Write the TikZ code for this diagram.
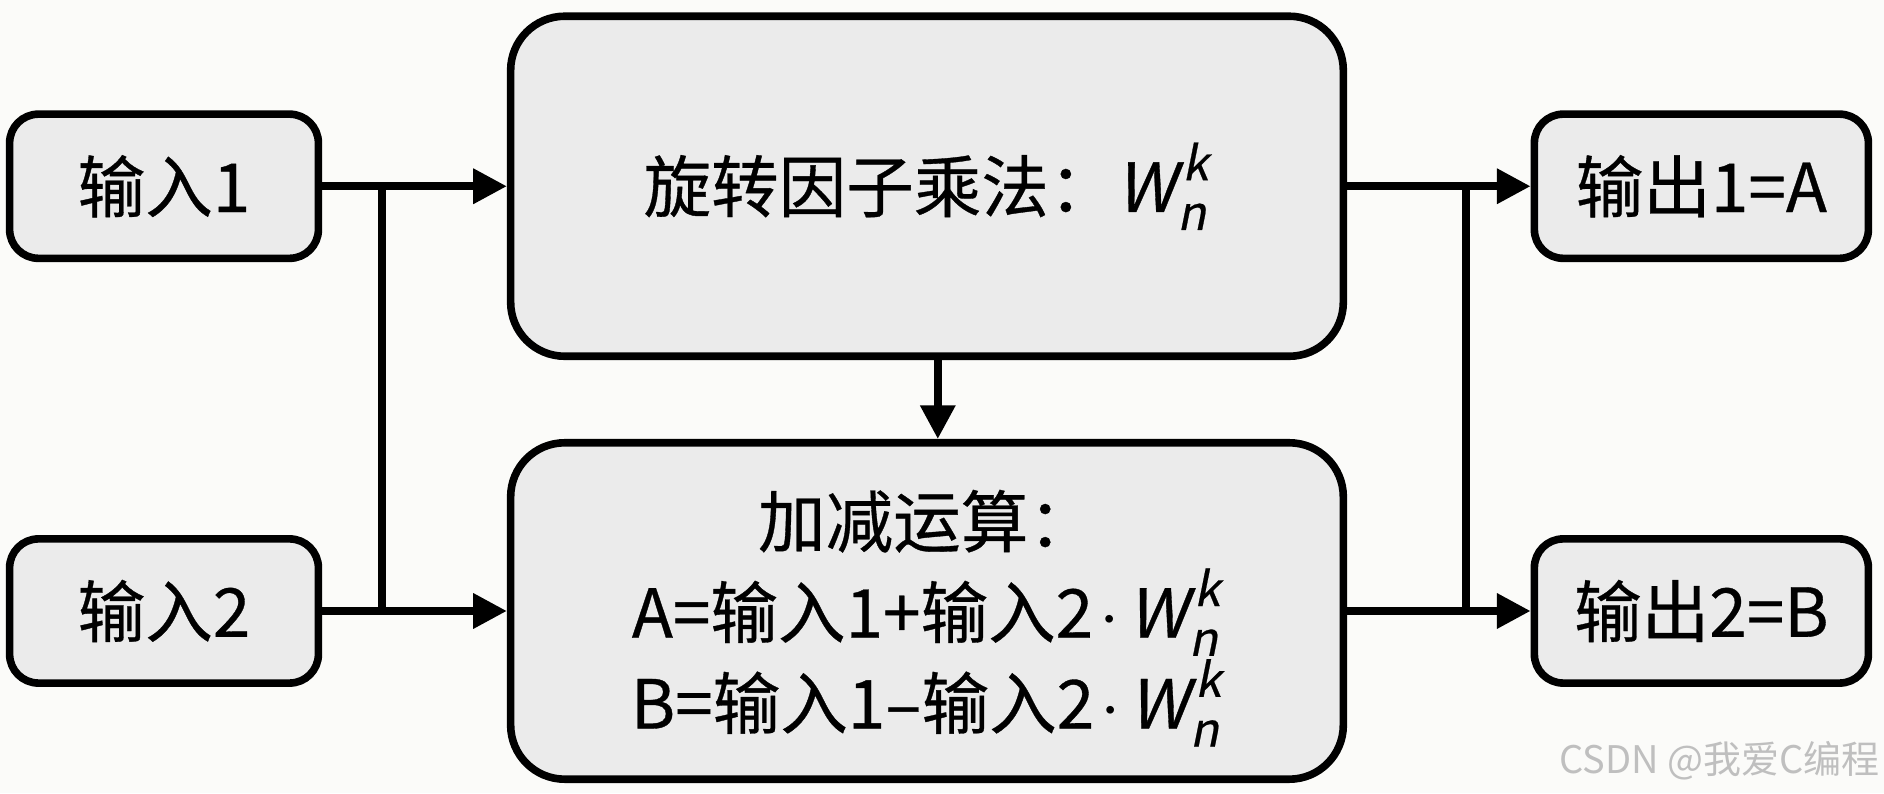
\documentclass[tikz,border=0pt]{standalone}
\usepackage{fontspec}
\usepackage{amsmath}
\setmainfont{Noto Sans CJK SC}[AutoFakeSlant=0.2, FakeBold=0.5]
\newfontfamily\markfont{Noto Sans CJK SC}
\usetikzlibrary{arrows.meta, positioning}
\definecolor{boxfill}{HTML}{EBEBEB}
\definecolor{paper}{HTML}{FBFBF9}
\tikzset{
	block/.style={draw, line width=1.8pt, fill=boxfill, rounded corners=0.24cm},
	bigblock/.style={block, rounded corners=0.45cm},
	link/.style={line width=1.8pt},
	arrow/.style={link, -{Triangle[length=0.28cm, width=0.28cm]}},
	blocktext/.style={align=center, font=\fontsize{16}{21.5}\selectfont}
}
\newcommand{\twiddle}{$\textit{W}^{\kern1.5pt\textit{k}}_{\kern0.3pt\textit{n}}$}
\newcommand{\dotop}{\kern1.5pt$\cdot$\kern2pt}

\begin{document}
\begin{tikzpicture}
		\useasboundingbox (0,0) rectangle (15.68,6.60);
		\fill[paper] (0,0) rectangle (15.68,6.60);
		
		\node[block, minimum width=2.57cm, minimum height=1.2cm] (in1) at (1.365,5.05) {};
		\node[blocktext] (in1-text) at (in1) {输入1};
		
		\node[block, minimum width=2.57cm, minimum height=1.2cm] (in2) at (1.365,1.515) {};
		\node[blocktext] (in2-text) at (in2) {输入2};
		
		\node[bigblock, minimum width=6.93cm, minimum height=2.83cm] (mul) at (7.715,5.05) {};
		\node[blocktext] (mul-text) at (mul) {旋转因子乘法：\twiddle};
		
		\node[bigblock, minimum width=6.93cm, minimum height=2.80cm] (add) at (7.715,1.515) {};
		\node[blocktext] (add-text) at ([yshift=-0.06cm]add.center) {加减运算：\\ A=输入1+输入2\dotop\twiddle \\ B=输入1–输入2\dotop\twiddle};
		
		\node[block, minimum width=2.78cm, minimum height=1.2cm] (out1) at (14.16,5.05) {};
		\node[blocktext] (out1-text) at (out1) {输出1=A};
		
		\node[block, minimum width=2.78cm, minimum height=1.2cm] (out2) at (14.16,1.515) {};
		\node[blocktext] (out2-text) at (out2) {输出2=B};
		
		\coordinate (split) at (3.18,0);
		\coordinate (merge) at (12.20,0);
		
		\draw[arrow] (in1.east)  -- (mul.west);
		\draw[arrow] (in2.east)  -- (add.west);
		\draw[link]  (split |- in1.east) -- (split |- in2.east);
		\draw[arrow] ([xshift=0.09cm]mul.south) -- ([xshift=0.09cm]add.north);
		\draw[arrow] (mul.east)  -- (out1.west);
		\draw[arrow] (add.east)  -- (out2.west);
		\draw[link]  (merge |- out1.west) -- (merge |- out2.west);
		
		\node[anchor=east, inner sep=0pt, text=gray!50, font=\markfont\fontsize{9}{9}\selectfont] (mark) at (15.65,0.27) {CSDN @我爱C编程};
	\end{tikzpicture}
\end{document}
